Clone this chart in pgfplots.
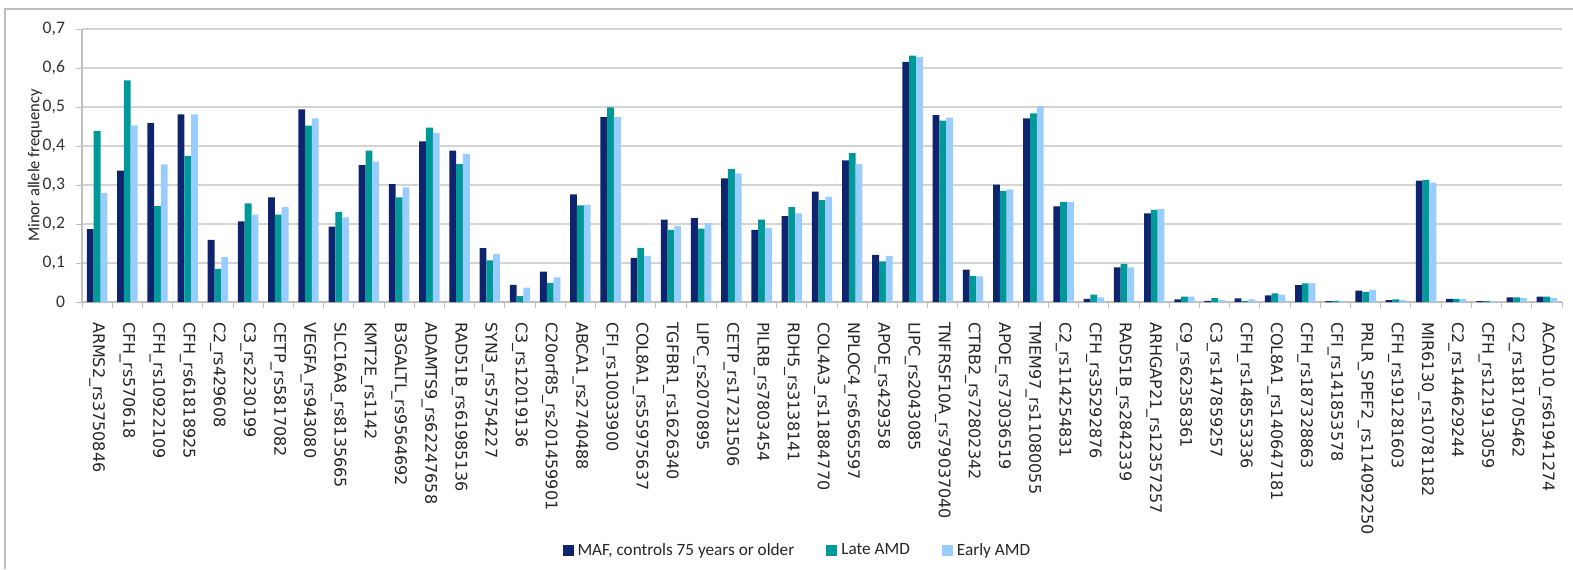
\documentclass[border=0pt]{standalone}
\usepackage{pgfplots}
\pgfplotsset{compat=1.18}
\usepackage{pgfplotstable}
\usepackage{fontspec}
\setmainfont{Carlito}
\newfontfamily\dejavu{DejaVu Sans}
\definecolor{cnavy}{HTML}{0F246E}
\definecolor{cteal}{HTML}{009999}
\definecolor{clight}{HTML}{99CCFF}
\definecolor{cgrid}{HTML}{D4D4D4}
\definecolor{caxis}{HTML}{BFBFBF}

\pgfplotstableread{
x a b c
0 0.187 0.438 0.279
1 0.337 0.568 0.453
2 0.459 0.246 0.353
3 0.481 0.375 0.481
4 0.159 0.085 0.115
5 0.207 0.253 0.224
6 0.268 0.224 0.243
7 0.494 0.452 0.471
8 0.193 0.231 0.217
9 0.351 0.388 0.360
10 0.302 0.268 0.294
11 0.412 0.447 0.434
12 0.388 0.354 0.380
13 0.138 0.107 0.123
14 0.044 0.015 0.037
15 0.078 0.049 0.063
16 0.276 0.248 0.250
17 0.474 0.499 0.474
18 0.113 0.139 0.118
19 0.211 0.185 0.195
20 0.215 0.188 0.202
21 0.317 0.341 0.330
22 0.185 0.211 0.190
23 0.220 0.243 0.227
24 0.283 0.261 0.270
25 0.363 0.382 0.354
26 0.121 0.104 0.118
27 0.616 0.632 0.628
28 0.479 0.465 0.473
29 0.083 0.067 0.066
30 0.301 0.285 0.289
31 0.471 0.484 0.503
32 0.245 0.257 0.256
33 0.008 0.019 0.012
34 0.089 0.098 0.089
35 0.227 0.236 0.238
36 0.007 0.014 0.014
37 0.003 0.010 0.005
38 0.009 0.002 0.007
39 0.017 0.022 0.019
40 0.043 0.048 0.048
41 0.002 0.003 0.002
42 0.029 0.026 0.031
43 0.005 0.007 0.005
44 0.311 0.313 0.306
45 0.008 0.008 0.008
46 0.002 0.002 0.002
47 0.012 0.012 0.010
48 0.014 0.014 0.010
}\data

\begin{document}
\begin{tikzpicture}
\useasboundingbox (0,0) rectangle (786.5pt,284.5pt);
\draw[color=caxis, line width=0.6pt] (2.5pt,0) -- (2.5pt,280pt) -- (786.5pt,280pt);
\begin{axis}[
  at={(41pt,133.5pt)}, anchor=south west,
  scale only axis, width=740pt, height=136.5pt,
  ybar=0pt, bar width=3.4pt,
  ymin=0, ymax=0.7, ytick={0,0.1,...,0.7},
  xmin=-0.5, xmax=48.5,
  xtick={0,...,48},
  minor xtick={-0.5,0.5,...,48.5},
  every major x tick/.style={draw=none},
  tick align=outside, major tick length=3pt, minor tick length=3pt,
  tick style={color=caxis, line width=0.5pt},
  axis x line*=bottom, axis y line*=left,
  axis line style={color=caxis, line width=0.6pt},
  ymajorgrids, grid style={color=cgrid, line width=0.6pt},
  /pgf/number format/assume math mode=true,
  yticklabel style={/pgf/number format/use comma, /pgf/number format/fixed, /pgf/number format/precision=1, font=\fontsize{8.8}{10}\selectfont, text=black!80},
  yticklabel shift=2pt,
  xticklabel style={font=\dejavu\fontsize{8}{9}\selectfont, rotate=-90, anchor=west, text=black!85},
  xticklabel shift=3.5pt,
  xticklabels={ARMS2\_rs3750846,CFH\_rs570618,CFH\_rs10922109,CFH\_rs61818925,C2\_rs429608,C3\_rs2230199,CETP\_rs5817082,VEGFA\_rs943080,SLC16A8\_rs8135665,KMT2E\_rs1142,B3GALTL\_rs9564692,ADAMTS9\_rs62247658,RAD51B\_rs61985136,SYN3\_rs5754227,C3\_rs12019136,C20orf85\_rs201459901,ABCA1\_rs2740488,CFI\_rs10033900,COL8A1\_rs55975637,TGFBR1\_rs1626340,LIPC\_rs2070895,CETP\_rs17231506,PILRB\_rs7803454,RDH5\_rs3138141,COL4A3\_rs11884770,NPLOC4\_rs6565597,APOE\_rs429358,LIPC\_rs2043085,TNFRSF10A\_rs79037040,CTRB2\_rs72802342,APOE\_rs73036519,TMEM97\_rs11080055,C2\_rs114254831,CFH\_rs35292876,RAD51B\_rs2842339,ARHGAP21\_rs12357257,C9\_rs62358361,C3\_rs147859257,CFH\_rs148553336,COL8A1\_rs140647181,CFH\_rs187328863,CFI\_rs141853578,PRLR\_SPEF2\_rs114092250,CFH\_rs191281603,MIR6130\_rs10781182,C2\_rs144629244,CFH\_rs121913059,C2\_rs181705462,ACAD10\_rs61941274},
  ylabel={Minor allele frequency},
  ylabel style={at={(axis description cs:-0.0223,0.5)}, anchor=south, font=\fontsize{8.3}{10}\selectfont, text=black!85},
  legend columns=3,
  legend style={at={(axis description cs:0.484,-0.912)}, anchor=center, draw=none,
    font=\fontsize{8.6}{10}\selectfont, text=black!85,
    /tikz/every even column/.append style={column sep=14pt}},
  legend image code/.code={\fill[#1] (0pt,-2.75pt) rectangle (5.5pt,2.75pt);},
]
\addplot[fill=cnavy, draw=none] table[x=x, y=a] {\data};
\addplot[fill=cteal, draw=none] table[x=x, y=b] {\data};
\addplot[fill=clight, draw=none] table[x=x, y=c] {\data};
\legend{{MAF, controls 75 years or older}, Late AMD, Early AMD}
\end{axis}
\end{tikzpicture}
\end{document}
